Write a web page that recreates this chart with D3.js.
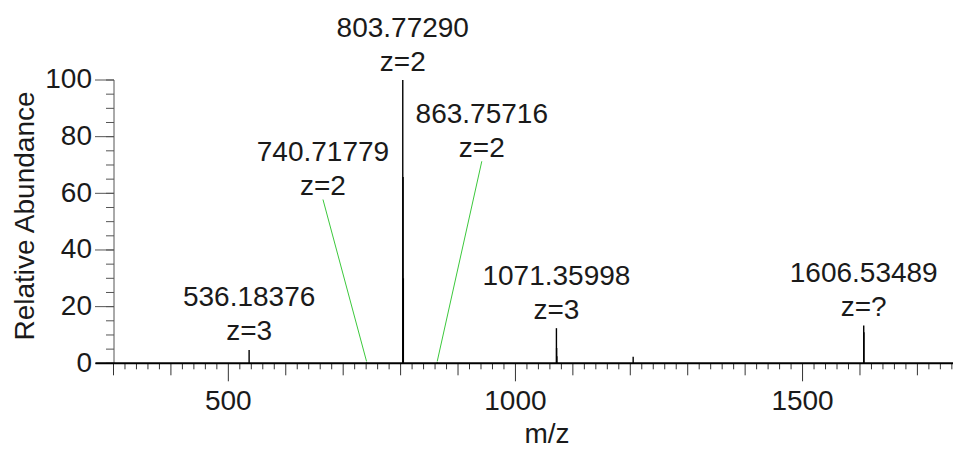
<!DOCTYPE html>
<html>
<head>
<meta charset="utf-8">
<script src="https://cdn.jsdelivr.net/npm/d3@7/dist/d3.min.js"></script>
<style>
  html, body { margin: 0; padding: 0; background: #fff; }
  svg { display: block; }
  text { font-family: "Liberation Sans", Arial, sans-serif; fill: #1a1a1a; }
</style>
</head>
<body>
<svg id="chart" width="953" height="450"></svg>
<script>
// Centroided peaks of the spectrum (m/z, relative abundance %)
const peakMz    = [536.18, 740.72, 803.77, 804.27, 804.77, 863.76, 1071.36, 1071.69, 1072.03, 1205.0, 1606.53, 1606.90];
const peakAbund = [4.7,    0.3,    100,    65.8,   30,     0.3,    12.4,    5.4,     2.5,     2.3,    13.3,    11.0];

// Annotated peaks: accurate mass and charge state
const labelMz     = [536.18376, 740.71779, 803.77290, 863.75716, 1071.35998, 1606.53489];
const labelText   = ["536.18376", "740.71779", "803.77290", "863.75716", "1071.35998", "1606.53489"];
const labelCharge = ["z=3", "z=2", "z=2", "z=2", "z=3", "z=?"];
// Where a label is moved off its peak (m/z, abundance of the charge line); null = directly above the peak
const calloutMz    = [null, 664.8, null, 941.4, null, null];
const calloutAbund = [null, 59.4,  null, 72.9,  null, null];

// Axis ticks
const yTicks = [0, 20, 40, 60, 80, 100];
const xTicks = [500, 1000, 1500];

const svg = d3.select("#chart");
const x = d3.scaleLinear().domain([300, 1762]).range([113.5, 953]);
const y = d3.scaleLinear().domain([0, 100]).range([363.3, 80]);

// ---- Y axis ----
const yAxisX = 114;
const yMinor = d3.range(0, 100.1, 5);
svg.append("line")
  .attr("x1", yAxisX).attr("x2", yAxisX)
  .attr("y1", y(100)).attr("y2", y(0))
  .attr("stroke", "#555").attr("stroke-width", 1);
svg.append("g").selectAll("line").data(yMinor).join("line")
  .attr("x1", yAxisX - 8).attr("x2", yAxisX)
  .attr("y1", d => y(d)).attr("y2", d => y(d))
  .attr("stroke", "#555").attr("stroke-width", 1);
svg.append("g").selectAll("line").data(yTicks).join("line")
  .attr("x1", yAxisX - 19).attr("x2", yAxisX)
  .attr("y1", d => y(d)).attr("y2", d => y(d))
  .attr("stroke", "#555").attr("stroke-width", 1);
svg.append("g").selectAll("text").data(yTicks).join("text")
  .attr("x", 92).attr("y", d => y(d) + 8.3)
  .attr("text-anchor", "end")
  .style("font-size", "28px")
  .text(d => d);
svg.append("text")
  .attr("transform", `translate(34, 216) rotate(-90)`)
  .attr("text-anchor", "middle")
  .style("font-size", "28px")
  .text("Relative Abundance");

// ---- X axis ----
const xMinor = d3.range(300, 1762, 20);
svg.append("g").selectAll("line").data(xMinor).join("line")
  .attr("x1", d => x(d)).attr("x2", d => x(d))
  .attr("y1", y(0))
  .attr("y2", d => y(0) + (d % 500 === 0 ? 18 : d % 100 === 0 ? 12 : 6))
  .attr("stroke", "#333").attr("stroke-width", 1);
svg.append("line")
  .attr("x1", x(300) - 18).attr("x2", 953)
  .attr("y1", y(0)).attr("y2", y(0))
  .attr("stroke", "#000").attr("stroke-width", 2);
svg.append("g").selectAll("text").data(xTicks).join("text")
  .attr("x", d => x(d)).attr("y", 410)
  .attr("text-anchor", "middle")
  .style("font-size", "28px")
  .text(d => d);
svg.append("text")
  .attr("x", x(1055)).attr("y", 443)
  .attr("text-anchor", "middle")
  .style("font-size", "28px")
  .text("m/z");

// ---- Peaks ----
const peaks = peakMz.map((m, i) => ({ m, a: peakAbund[i] }));
svg.append("g").selectAll("line").data(peaks).join("line")
  .attr("x1", d => x(d.m)).attr("x2", d => x(d.m))
  .attr("y1", y(0)).attr("y2", d => y(d.a))
  .attr("stroke", "#000").attr("stroke-width", 1.4);

// ---- Peak labels ----
const abundAt = m => {
  const p = peaks.reduce((b, d) => Math.abs(d.m - m) < Math.abs(b.m - m) ? d : b);
  return p.a;
};
const labels = labelMz.map((m, i) => {
  const top = abundAt(m);
  const moved = calloutMz[i] !== null;
  const cx = moved ? x(calloutMz[i]) : x(m);
  const zBase = moved ? y(calloutAbund[i]) : y(top) - 9.5;
  return { m, top, moved, cx, zBase, text: labelText[i], charge: labelCharge[i] };
});

// Leader lines for labels moved off their peaks
svg.append("g").selectAll("line").data(labels.filter(d => d.moved)).join("line")
  .attr("x1", d => d.cx).attr("y1", d => d.zBase + 4.5)
  .attr("x2", d => x(d.m)).attr("y2", d => y(d.top) - 1)
  .attr("stroke", "#3cc83c").attr("stroke-width", 1);

const lg = svg.append("g").selectAll("g").data(labels).join("g");
lg.append("text")
  .attr("x", d => d.cx).attr("y", d => d.zBase - 34)
  .attr("text-anchor", "middle")
  .style("font-size", "28px")
  .text(d => d.text);
lg.append("text")
  .attr("x", d => d.cx).attr("y", d => d.zBase)
  .attr("text-anchor", "middle")
  .style("font-size", "28px")
  .text(d => d.charge);
</script>
</body>
</html>
